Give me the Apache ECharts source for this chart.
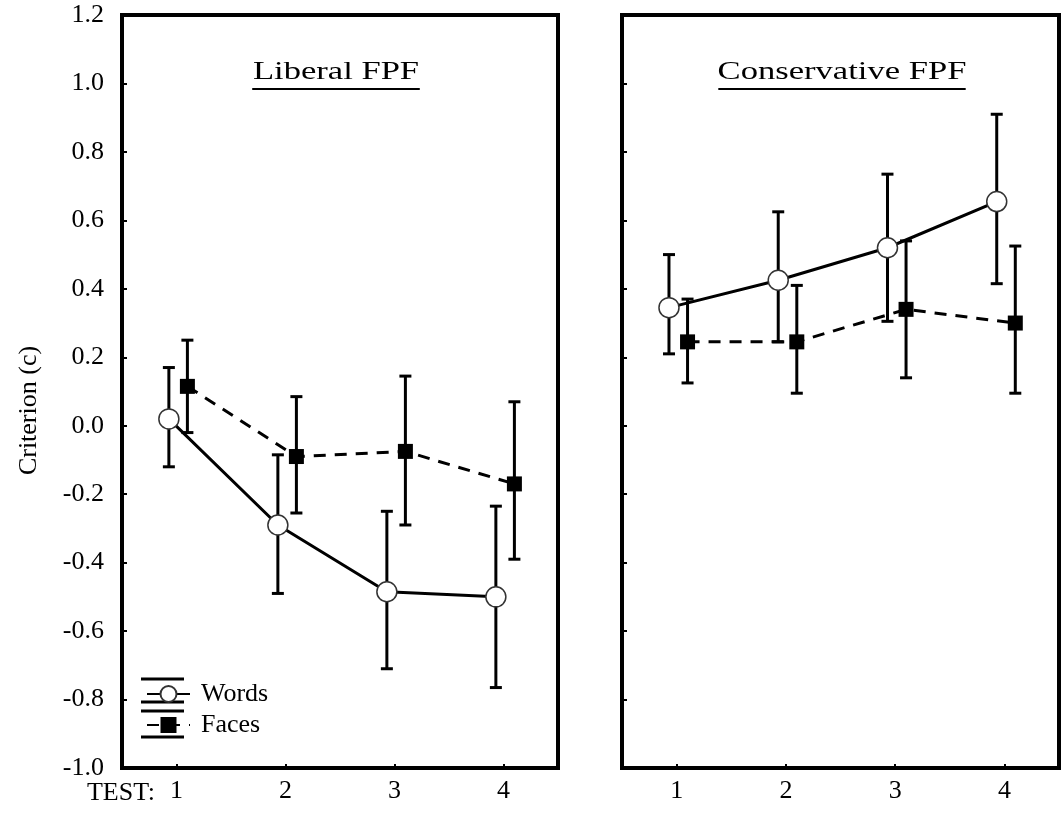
<!DOCTYPE html>
<html>
<head>
<meta charset="utf-8">
<script src="https://cdn.jsdelivr.net/npm/echarts@6/dist/echarts.min.js"></script>
<style>
  html, body { margin: 0; padding: 0; background: #fff; }
  #chart { width: 1061px; height: 813px; }
</style>
</head>
<body>
<div id="chart"></div>
<script>
const tests = [1, 2, 3, 4];

// Liberal FPF panel
const liberalWords = [0.02, -0.29, -0.485, -0.50];
const liberalWordsLow = [-0.12, -0.49, -0.71, -0.765];
const liberalWordsHigh = [0.17, -0.085, -0.25, -0.235];
const liberalFaces = [0.115, -0.09, -0.075, -0.17];
const liberalFacesLow = [-0.02, -0.255, -0.29, -0.39];
const liberalFacesHigh = [0.25, 0.085, 0.145, 0.07];

// Conservative FPF panel
const conservWords = [0.345, 0.425, 0.52, 0.655];
const conservWordsLow = [0.21, 0.245, 0.305, 0.415];
const conservWordsHigh = [0.50, 0.625, 0.735, 0.91];
const conservFaces = [0.245, 0.245, 0.34, 0.30];
const conservFacesLow = [0.125, 0.095, 0.14, 0.095];
const conservFacesHigh = [0.37, 0.41, 0.54, 0.525];

const serif = 'Liberation Serif';
const wordsShift = -0.07;
const facesShift = 0.1;

const points = (vals, shift) => tests.map((t, i) => [t + shift, vals[i]]);
const bars = (low, high, shift) => tests.map((t, i) => [t + shift, low[i], high[i]]);

function errorBar(params, api) {
    const lo = api.coord([api.value(0), api.value(1)]);
    const hi = api.coord([api.value(0), api.value(2)]);
    const cap = 6;
    const st = { stroke: '#000', lineWidth: 3 };
    return {
        type: 'group',
        children: [
            { type: 'line', shape: { x1: lo[0], y1: lo[1], x2: hi[0], y2: hi[1] }, style: st },
            { type: 'line', shape: { x1: lo[0] - cap, y1: lo[1], x2: lo[0] + cap, y2: lo[1] }, style: st },
            { type: 'line', shape: { x1: hi[0] - cap, y1: hi[1], x2: hi[0] + cap, y2: hi[1] }, style: st }
        ]
    };
}

const xAxisFor = (idx) => ({
    type: 'value', gridIndex: idx, min: 0.5, max: 4.5,
    axisLine: { onZero: false, lineStyle: { color: '#000', width: 4 } },
    axisTick: { inside: true, length: 4, customValues: tests, lineStyle: { color: '#000', width: 2 } },
    axisLabel: { customValues: tests, color: '#000', fontFamily: serif, fontSize: 26, margin: 10 },
    splitLine: { show: false }
});

const yAxisFor = (idx, labels) => ({
    type: 'value', gridIndex: idx, min: -1.0, max: 1.2, interval: 0.2,
    name: labels ? 'Criterion (c)' : '',
    nameLocation: 'middle', nameGap: 80, nameRotate: 90,
    nameTextStyle: { color: '#000', fontFamily: serif, fontSize: 26, padding: [0, 38, 0, 0] },
    axisLine: { onZero: false, lineStyle: { color: '#000', width: 4 } },
    axisTick: { inside: true, length: 5, lineStyle: { color: '#000', width: 2 } },
    axisLabel: {
        show: labels, color: '#000', fontFamily: serif, fontSize: 26, margin: 18,
        formatter: (v) => v.toFixed(1)
    },
    splitLine: { show: false }
});

const lineSeries = (name, idx, vals, shift, dashed) => ({
    name: name, type: 'line', xAxisIndex: idx, yAxisIndex: idx,
    data: points(vals, shift),
    symbol: dashed ? 'rect' : 'circle',
    symbolSize: dashed ? 15 : 20,
    itemStyle: dashed ? { color: '#000' } : { color: '#fff', borderColor: '#333', borderWidth: 1.5 },
    lineStyle: { color: '#000', width: 3, type: dashed ? [12, 9] : 'solid' },
    z: 3
});

const barSeries = (idx, low, high, shift) => ({
    type: 'custom', xAxisIndex: idx, yAxisIndex: idx,
    data: bars(low, high, shift),
    encode: { x: 0, y: [1, 2] },
    renderItem: errorBar,
    z: 2
});

const chart = echarts.init(document.getElementById('chart'));

chart.setOption({
    backgroundColor: '#fff',
    animation: false,
    grid: [
        { left: 122, top: 15, width: 436, height: 753, show: true, borderColor: '#000', borderWidth: 4 },
        { left: 622, top: 15, width: 437, height: 753, show: true, borderColor: '#000', borderWidth: 4 }
    ],
    xAxis: [xAxisFor(0), xAxisFor(1)],
    yAxis: [yAxisFor(0, true), yAxisFor(1, false)],
    legend: {
        data: ['Words', 'Faces'],
        orient: 'vertical',
        left: 141, top: 676,
        itemWidth: 43, itemHeight: 20, itemGap: 5,
        textStyle: { color: '#000', fontFamily: serif, fontSize: 26, padding: [0, 0, 0, 6] }
    },
    graphic: [
        {
            type: 'group', x: 336, y: 72, scaleX: 1.33,
            children: [
                { type: 'text', style: { text: 'Liberal FPF', font: '26px "Liberation Serif"', fill: '#000', align: 'center', verticalAlign: 'middle' } },
                { type: 'line', shape: { x1: -63, y1: 17, x2: 63, y2: 17 }, style: { stroke: '#000', lineWidth: 2 } }
            ]
        },
        {
            type: 'group', x: 842, y: 72, scaleX: 1.33,
            children: [
                { type: 'text', style: { text: 'Conservative FPF', font: '26px "Liberation Serif"', fill: '#000', align: 'center', verticalAlign: 'middle' } },
                { type: 'line', shape: { x1: -93, y1: 17, x2: 93, y2: 17 }, style: { stroke: '#000', lineWidth: 2 } }
            ]
        },
        { type: 'text', x: 155, y: 793, style: { text: 'TEST:', font: '26px "Liberation Serif"', fill: '#000', align: 'right', verticalAlign: 'middle' } },
        // legend whiskers
        { type: 'line', shape: { x1: 141, y1: 679, x2: 184, y2: 679 }, style: { stroke: '#000', lineWidth: 3 } },
        { type: 'line', shape: { x1: 141, y1: 702, x2: 184, y2: 702 }, style: { stroke: '#000', lineWidth: 3 } },
        { type: 'line', shape: { x1: 141, y1: 711, x2: 184, y2: 711 }, style: { stroke: '#000', lineWidth: 3 } },
        { type: 'line', shape: { x1: 141, y1: 737, x2: 184, y2: 737 }, style: { stroke: '#000', lineWidth: 3 } }
    ],
    series: [
        barSeries(0, liberalWordsLow, liberalWordsHigh, wordsShift),
        barSeries(0, liberalFacesLow, liberalFacesHigh, facesShift),
        barSeries(1, conservWordsLow, conservWordsHigh, wordsShift),
        barSeries(1, conservFacesLow, conservFacesHigh, facesShift),
        lineSeries('Words', 0, liberalWords, wordsShift, false),
        lineSeries('Faces', 0, liberalFaces, facesShift, true),
        lineSeries('Words', 1, conservWords, wordsShift, false),
        lineSeries('Faces', 1, conservFaces, facesShift, true)
    ]
});
</script>
</body>
</html>
